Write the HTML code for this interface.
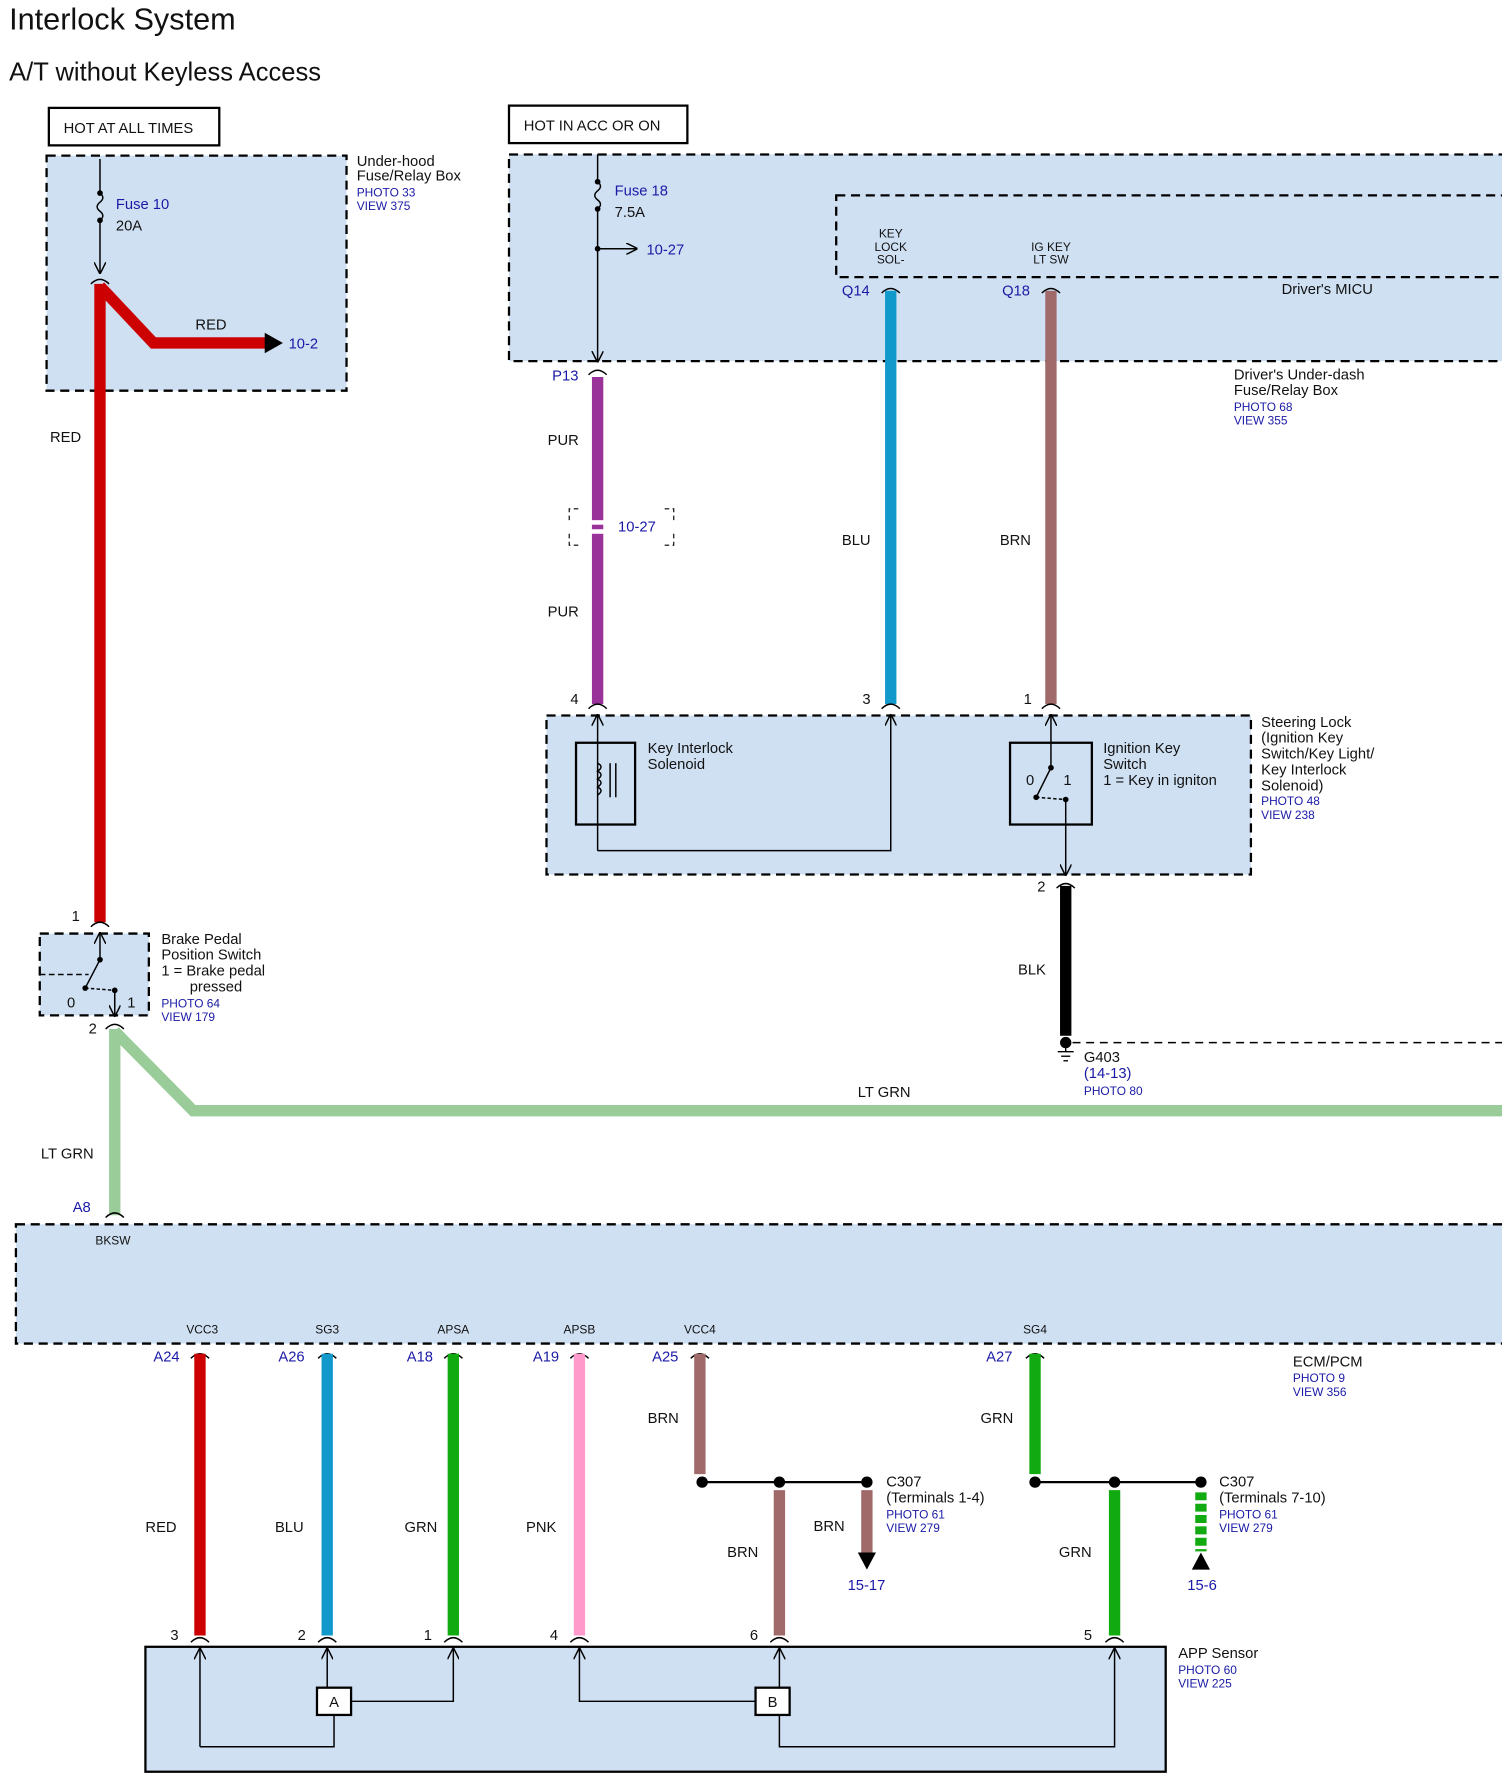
<!DOCTYPE html>
<html><head><meta charset="utf-8"><style>
html,body{margin:0;padding:0;background:#fff;}
svg{display:block;}
text{font-family:"Liberation Sans",sans-serif;font-size:13px;fill:#111;}
.b{fill:#1a1aa6;}
.s{font-size:10.5px;fill:#1a1aa6;}
.t{font-size:10.5px;}
</style></head><body>
<svg width="1502" height="1774" viewBox="0 0 1322 1562" preserveAspectRatio="none" xmlns="http://www.w3.org/2000/svg">
<defs>
<marker id="ar" markerWidth="8" markerHeight="8" refX="7" refY="4" orient="auto"><path d="M0,0 L8,4 L0,8" fill="none" stroke="#000" stroke-width="1"/></marker>
</defs>
<text x="8" y="26" style="font-size:27px">Interlock System</text>
<text x="8" y="71" style="font-size:22.5px">A/T without Keyless Access</text>

<rect x="43" y="95" width="150" height="33" fill="#fff" stroke="#000" stroke-width="2"/>
<text x="56" y="117">HOT AT ALL TIMES</text>
<rect x="448" y="93" width="157" height="33" fill="#fff" stroke="#000" stroke-width="2"/>
<text x="461" y="115">HOT IN ACC OR ON</text>

<g fill="#cfe0f3" stroke="#000" stroke-width="2" stroke-dasharray="8,5">
<rect x="41" y="137" width="264" height="207"/>
<rect x="448" y="136" width="890" height="182"/>
<rect x="736" y="172" width="600" height="72"/>
<rect x="481" y="630" width="620" height="140"/>
<rect x="35" y="822" width="96" height="72"/>
<rect x="14" y="1078" width="1320" height="105"/>
</g>
<rect x="128" y="1450" width="898" height="110" fill="#cfe0f3" stroke="#000" stroke-width="2"/>

<g stroke="#000" stroke-width="1.3" fill="none">
<line x1="88" y1="140" x2="88" y2="170"/>
<path d="M88,170 q5,4 0,8 q-5,4 0,8 q5,4 0,8"/>
<line x1="88" y1="194" x2="88" y2="240" marker-end="url(#ar)"/>
<path d="M80,250 q8,-8 16,0"/>
</g>
<circle cx="88" cy="170" r="2.5"/><circle cx="88" cy="194" r="2.5"/>
<text x="102" y="184" class="b">Fuse 10</text><text x="102" y="203">20A</text>
<path d="M88,250 L88,812 M88,252 L135,302 L235,302" fill="none" stroke="#cc0000" stroke-width="10"/>
<path d="M233,293 L249,302 L233,311 Z" fill="#000"/>
<text x="172" y="290">RED</text><text x="254" y="307" class="b">10-2</text>
<text x="44" y="389">RED</text>
<text x="314" y="146">Under-hood</text><text x="314" y="159">Fuse/Relay Box</text>
<text x="314" y="173" class="s">PHOTO 33</text><text x="314" y="185" class="s">VIEW 375</text>

<g stroke="#000" stroke-width="1.3" fill="none">
<line x1="526" y1="136" x2="526" y2="160"/>
<path d="M526,160 q5,4 0,8 q-5,4 0,8 q5,4 0,8"/>
<line x1="526" y1="184" x2="526" y2="318" marker-end="url(#ar)"/>
<line x1="526" y1="219" x2="560" y2="219" marker-end="url(#ar)"/>
<path d="M518,330 q8,-8 16,0"/>
<path d="M776,258 q8,-8 16,0"/><path d="M917,258 q8,-8 16,0"/>
</g>
<circle cx="526" cy="160" r="2.5"/><circle cx="526" cy="184" r="2.5"/><circle cx="526" cy="219" r="2.5"/>
<text x="541" y="172" class="b">Fuse 18</text><text x="541" y="191">7.5A</text>
<text x="569" y="224" class="b">10-27</text>
<text x="784" y="209" class="t" text-anchor="middle">KEY</text>
<text x="784" y="221" class="t" text-anchor="middle">LOCK</text>
<text x="784" y="232" class="t" text-anchor="middle">SOL-</text>
<text x="925" y="221" class="t" text-anchor="middle">IG KEY</text>
<text x="925" y="232" class="t" text-anchor="middle">LT SW</text>
<text x="741" y="260" class="b">Q14</text><text x="882" y="260" class="b">Q18</text>
<text x="1128" y="259">Driver's MICU</text>
<text x="1086" y="334">Driver's Under-dash</text><text x="1086" y="348">Fuse/Relay Box</text>
<text x="1086" y="362" class="s">PHOTO 68</text><text x="1086" y="374" class="s">VIEW 355</text>
<text x="486" y="335" class="b">P13</text>

<line x1="526" y1="332" x2="526" y2="620" stroke="#993399" stroke-width="10"/>
<rect x="518" y="458" width="16" height="4" fill="#fff"/><rect x="518" y="466" width="16" height="4" fill="#fff"/>
<path d="M501,458 v-10 h8 M585,448 h8 v10 M501,470 v10 h8 M585,480 h8 v-10" fill="none" stroke="#000" stroke-dasharray="4,3"/>
<text x="544" y="468" class="b">10-27</text>
<text x="482" y="392">PUR</text><text x="482" y="543">PUR</text>
<line x1="784" y1="256" x2="784" y2="620" stroke="#1199cc" stroke-width="10"/>
<line x1="925" y1="256" x2="925" y2="620" stroke="#a06a6a" stroke-width="10"/>
<text x="741" y="480">BLU</text><text x="880" y="480">BRN</text>

<g stroke="#000" stroke-width="1.3" fill="none">
<path d="M518,624 q8,-8 16,0"/><path d="M776,624 q8,-8 16,0"/><path d="M917,624 q8,-8 16,0"/>
<rect x="507" y="654" width="52" height="72" stroke-width="2"/>
<line x1="526" y1="749" x2="526" y2="630" marker-end="url(#ar)"/>
<path d="M526,749 H784 V630" marker-end="url(#ar)"/>
<path d="M526,672 q6,3 0,7 q6,3 0,7 q6,3 0,7 q6,3 0,7"/>
<line x1="537" y1="672" x2="537" y2="702"/><line x1="542" y1="672" x2="542" y2="702"/>
<rect x="889" y="654" width="72" height="72" stroke-width="2"/>
<line x1="925" y1="660" x2="925" y2="630" marker-end="url(#ar)"/>
<line x1="925" y1="660" x2="925" y2="676"/>
<line x1="925" y1="676" x2="912" y2="702"/>
<path d="M912,702 L938,704" stroke-dasharray="3,2"/>
<line x1="938" y1="704" x2="938" y2="770" marker-end="url(#ar)"/>
<path d="M930,782 q8,-8 16,0"/>
</g>
<circle cx="925" cy="676" r="2.5"/><circle cx="912" cy="702" r="2.5"/><circle cx="938" cy="704" r="2.5"/>
<text x="903" y="691">0</text><text x="936" y="691">1</text>
<text x="502" y="620">4</text><text x="759" y="620">3</text><text x="901" y="620">1</text>
<text x="570" y="663">Key Interlock</text><text x="570" y="677">Solenoid</text>
<text x="971" y="663">Ignition Key</text><text x="971" y="677">Switch</text><text x="971" y="691">1 = Key in igniton</text>
<text x="1110" y="640">Steering Lock</text><text x="1110" y="654">(Ignition Key</text><text x="1110" y="668">Switch/Key Light/</text><text x="1110" y="682">Key Interlock</text><text x="1110" y="696">Solenoid)</text>
<text x="1110" y="709" class="s">PHOTO 48</text><text x="1110" y="721" class="s">VIEW 238</text>
<line x1="938" y1="780" x2="938" y2="912" stroke="#000" stroke-width="10"/>
<text x="913" y="785">2</text><text x="896" y="858">BLK</text>
<circle cx="938" cy="918" r="5"/>
<line x1="944" y1="918" x2="1322" y2="918" stroke="#000" stroke-width="1.3" stroke-dasharray="7,5"/>
<g stroke="#000" stroke-width="1.2"><line x1="938" y1="918" x2="938" y2="926"/><line x1="931" y1="926" x2="945" y2="926"/><line x1="934" y1="930" x2="942" y2="930"/><line x1="936" y1="934" x2="940" y2="934"/></g>
<text x="954" y="935">G403</text><text x="954" y="949" class="b">(14-13)</text><text x="954" y="964" class="s">PHOTO 80</text>

<g stroke="#000" stroke-width="1.3" fill="none">
<path d="M80,816 q8,-8 16,0"/>
<line x1="88" y1="845" x2="88" y2="822" marker-end="url(#ar)"/>
<line x1="88" y1="845" x2="75" y2="870"/>
<line x1="35" y1="858" x2="78" y2="858" stroke-dasharray="5,3"/>
<path d="M75,870 L101,872" stroke-dasharray="3,2"/>
<line x1="101" y1="872" x2="101" y2="894" marker-end="url(#ar)"/>
<path d="M93,906 q8,-8 16,0"/>
</g>
<circle cx="88" cy="845" r="2.5"/><circle cx="75" cy="870" r="2.5"/><circle cx="101" cy="872" r="2.5"/>
<text x="59" y="887">0</text><text x="112" y="887">1</text>
<text x="63" y="811">1</text><text x="78" y="910">2</text>
<text x="142" y="831">Brake Pedal</text><text x="142" y="845">Position Switch</text><text x="142" y="859">1 = Brake pedal</text><text x="167" y="873">pressed</text>
<text x="142" y="887" class="s">PHOTO 64</text><text x="142" y="899" class="s">VIEW 179</text>
<path d="M101,906 L101,1070 M101,908 L170,978 L1322,978" fill="none" stroke="#99cc99" stroke-width="10"/>
<text x="755" y="966">LT GRN</text><text x="36" y="1020">LT GRN</text>
<text x="64" y="1067" class="b">A8</text>
<path d="M93,1072 q8,-8 16,0" stroke="#000" fill="none" stroke-width="1.3"/>
<text x="84" y="1096" class="t">BKSW</text>

<text x="178" y="1174" class="t" text-anchor="middle">VCC3</text>
<text x="288" y="1174" class="t" text-anchor="middle">SG3</text>
<text x="399" y="1174" class="t" text-anchor="middle">APSA</text>
<text x="510" y="1174" class="t" text-anchor="middle">APSB</text>
<text x="616" y="1174" class="t" text-anchor="middle">VCC4</text>
<text x="911" y="1174" class="t" text-anchor="middle">SG4</text>
<text x="135" y="1199" class="b">A24</text><text x="245" y="1199" class="b">A26</text><text x="358" y="1199" class="b">A18</text>
<text x="469" y="1199" class="b">A19</text><text x="574" y="1199" class="b">A25</text><text x="868" y="1199" class="b">A27</text>
<text x="1138" y="1203">ECM/PCM</text><text x="1138" y="1217" class="s">PHOTO 9</text><text x="1138" y="1229" class="s">VIEW 356</text>
<g stroke="#000" stroke-width="1.3" fill="none">
<path d="M168,1196 q8,-8 16,0"/><path d="M280,1196 q8,-8 16,0"/><path d="M391,1196 q8,-8 16,0"/><path d="M502,1196 q8,-8 16,0"/><path d="M608,1196 q8,-8 16,0"/><path d="M903,1196 q8,-8 16,0"/>
<path d="M168,1446 q8,-8 16,0"/><path d="M280,1446 q8,-8 16,0"/><path d="M391,1446 q8,-8 16,0"/><path d="M502,1446 q8,-8 16,0"/><path d="M678,1446 q8,-8 16,0"/><path d="M973,1446 q8,-8 16,0"/>
</g>
<line x1="176" y1="1192" x2="176" y2="1440" stroke="#cc0000" stroke-width="10"/>
<line x1="288" y1="1192" x2="288" y2="1440" stroke="#1199cc" stroke-width="10"/>
<line x1="399" y1="1192" x2="399" y2="1440" stroke="#11aa11" stroke-width="10"/>
<line x1="510" y1="1192" x2="510" y2="1440" stroke="#ff99cc" stroke-width="10"/>
<line x1="616" y1="1192" x2="616" y2="1298" stroke="#a06a6a" stroke-width="10"/>
<line x1="686" y1="1312" x2="686" y2="1440" stroke="#a06a6a" stroke-width="10"/>
<line x1="763" y1="1312" x2="763" y2="1368" stroke="#a06a6a" stroke-width="10"/>
<line x1="911" y1="1192" x2="911" y2="1298" stroke="#11aa11" stroke-width="10"/>
<line x1="981" y1="1312" x2="981" y2="1440" stroke="#11aa11" stroke-width="10"/>
<line x1="1057" y1="1314" x2="1057" y2="1366" stroke="#11aa11" stroke-width="10" stroke-dasharray="7,3"/>
<line x1="618" y1="1305" x2="763" y2="1305" stroke="#000" stroke-width="2"/>
<line x1="911" y1="1305" x2="1057" y2="1305" stroke="#000" stroke-width="2"/>
<circle cx="618" cy="1305" r="5"/><circle cx="686" cy="1305" r="5"/><circle cx="763" cy="1305" r="5"/>
<circle cx="911" cy="1305" r="5"/><circle cx="981" cy="1305" r="5"/><circle cx="1057" cy="1305" r="5"/>
<path d="M755,1367 L771,1367 L763,1382 Z" fill="#000"/>
<path d="M1049,1382 L1065,1382 L1057,1367 Z" fill="#000"/>
<text x="746" y="1400" class="b">15-17</text><text x="1045" y="1400" class="b">15-6</text>
<text x="570" y="1253">BRN</text><text x="640" y="1371">BRN</text><text x="716" y="1348">BRN</text>
<text x="863" y="1253">GRN</text><text x="932" y="1371">GRN</text>
<text x="780" y="1309">C307</text><text x="780" y="1323">(Terminals 1-4)</text><text x="780" y="1337" class="s">PHOTO 61</text><text x="780" y="1349" class="s">VIEW 279</text>
<text x="1073" y="1309">C307</text><text x="1073" y="1323">(Terminals 7-10)</text><text x="1073" y="1337" class="s">PHOTO 61</text><text x="1073" y="1349" class="s">VIEW 279</text>
<text x="128" y="1349">RED</text><text x="242" y="1349">BLU</text><text x="356" y="1349">GRN</text><text x="463" y="1349">PNK</text>
<text x="150" y="1444">3</text><text x="262" y="1444">2</text><text x="373" y="1444">1</text><text x="484" y="1444">4</text><text x="660" y="1444">6</text><text x="954" y="1444">5</text>

<g stroke="#000" stroke-width="1.3" fill="none">
<path d="M176,1538 H294 V1510"/><line x1="176" y1="1538" x2="176" y2="1452" marker-end="url(#ar)"/>
<line x1="288" y1="1486" x2="288" y2="1452" marker-end="url(#ar)"/>
<path d="M309,1498 H399 V1452" marker-end="url(#ar)"/>
<path d="M665,1498 H510 V1452" marker-end="url(#ar)"/>
<line x1="686" y1="1486" x2="686" y2="1452" marker-end="url(#ar)"/>
<path d="M686,1510 V1538 H981 V1452" marker-end="url(#ar)"/>
</g>
<rect x="279" y="1486" width="30" height="24" fill="#fff" stroke="#000" stroke-width="2"/>
<rect x="665" y="1486" width="30" height="24" fill="#fff" stroke="#000" stroke-width="2"/>
<text x="294" y="1503" text-anchor="middle">A</text><text x="680" y="1503" text-anchor="middle">B</text>
<text x="1037" y="1460">APP Sensor</text><text x="1037" y="1474" class="s">PHOTO 60</text><text x="1037" y="1486" class="s">VIEW 225</text>
</svg>
</body></html>
